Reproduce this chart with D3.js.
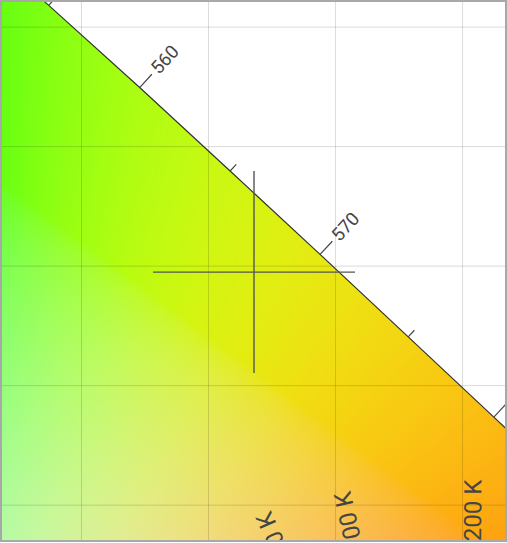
<!DOCTYPE html>
<html><head><meta charset="utf-8">
<script src="https://cdn.jsdelivr.net/npm/d3@7"></script>
<style>html,body{margin:0;padding:0;background:#fff;} svg{display:block;}</style>
</head><body>
<svg id="chart" width="507" height="543"></svg>
<script>
// Spectral locus (CIE 1931 2°), wavelength in nm
const wavelengths = [380,390,400,410,420,430,440,450,460,470,475,480,485,490,495,500,505,510,515,520,525,530,535,540,545,550,555,560,565,570,575,580,585,590,595,600,605,610,620,630,640,650,660,680,700];
const locusX = [0.1741,0.1738,0.1733,0.1726,0.1714,0.1689,0.1644,0.1566,0.1440,0.1241,0.1096,0.0913,0.0687,0.0454,0.0235,0.0082,0.0039,0.0139,0.0389,0.0743,0.1142,0.1547,0.1929,0.2296,0.2658,0.3016,0.3373,0.3731,0.4087,0.4441,0.4788,0.5125,0.5448,0.5752,0.6029,0.6270,0.6482,0.6658,0.6915,0.7079,0.7190,0.7260,0.7300,0.7334,0.7347];
const locusY = [0.0050,0.0049,0.0048,0.0048,0.0051,0.0069,0.0109,0.0177,0.0297,0.0578,0.0868,0.1327,0.2007,0.2950,0.4127,0.5384,0.6548,0.7502,0.8120,0.8338,0.8262,0.8059,0.7816,0.7543,0.7243,0.6923,0.6589,0.6245,0.5896,0.5547,0.5202,0.4866,0.4544,0.4242,0.3965,0.3725,0.3514,0.3340,0.3083,0.2920,0.2809,0.2740,0.2700,0.2666,0.2653];
const tickWavelengths = [550,555,560,565,570,575,580,585,590];
const labelWavelengths = [550,560,570,580,590];

// Planckian locus
const planckTemps = [1500,2000,2200,2500,2700,3000,3500,4000,5000,6500];
const planckX = [0.5857,0.5267,0.5018,0.4770,0.4599,0.4369,0.4053,0.3805,0.3451,0.3135];
const planckY = [0.3931,0.4133,0.4153,0.4137,0.4106,0.4041,0.3848,0.3768,0.3516,0.3237];
const cctLabelTemps = [2200,2700,3000];

// Grid and marker
const gridX = [0.35,0.40,0.45,0.50];
const gridY = [0.45,0.50,0.55,0.60,0.65];
const pointX = [0.4181];
const pointY = [0.5473];

const xDomain = [0.3189, 0.5169];
const yDomain = [0.4352, 0.6603];

const W = 507, H = 543;
const L = 2, T = 2, R = 505, B = 540;
const xs = d3.scaleLinear().domain(xDomain).range([L, R]);
const ys = d3.scaleLinear().domain(yDomain).range([B, T]);

const svg = d3.select('#chart');
const defs = svg.append('defs');
defs.append('clipPath').attr('id','plotClip').append('rect')
  .attr('x',L).attr('y',T).attr('width',R-L).attr('height',B-T);
const locusPts = wavelengths.map((w,i)=>[xs(locusX[i]), ys(locusY[i])]);
const line = d3.line();
defs.append('clipPath').attr('id','locusClip').append('path')
  .attr('d', line(locusPts) + 'Z');

// colour fill
function xyToRGB(x,y){
  const X = x/y, Y = 1, Z = (1-x-y)/y;
  let r = 3.2406*X - 1.5372*Y - 0.4986*Z;
  let g = -0.9689*X + 1.8758*Y + 0.0415*Z;
  let b = 0.0557*X - 0.2040*Y + 1.0570*Z;
  const m = Math.min(r,g,b);
  if (m < 0) { r -= m; g -= m; b -= m; }
  const N = Math.cbrt(r*r*r + g*g*g + b*b*b);
  const gam = v => { v = Math.min(1, v/N); return v <= 0.0031308 ? 12.92*v : 1.055*Math.pow(v,1/2.4)-0.055; };
  return [gam(r)*255, gam(g)*255, gam(b)*255];
}
const cw = R-L, ch = B-T;
const canvas = document.createElement('canvas');
canvas.width = cw; canvas.height = ch;
const ctx = canvas.getContext('2d');
const img = ctx.createImageData(cw, ch);
for (let j=0;j<ch;j++){
  const y = ys.invert(T+j+0.5);
  for (let i=0;i<cw;i++){
    const x = xs.invert(L+i+0.5);
    const c = xyToRGB(x,y);
    const k = (j*cw+i)*4;
    img.data[k]=c[0]; img.data[k+1]=c[1]; img.data[k+2]=c[2]; img.data[k+3]=255;
  }
}
ctx.putImageData(img,0,0);

const plot = svg.append('g').attr('clip-path','url(#plotClip)');
plot.append('g').attr('clip-path','url(#locusClip)')
  .append('image').attr('x',L).attr('y',T).attr('width',cw).attr('height',ch)
  .attr('preserveAspectRatio','none').attr('opacity',0.93)
  .attr('href', canvas.toDataURL());

// grid via axes
const gx = plot.append('g').attr('transform',`translate(0,${B})`)
  .call(d3.axisBottom(xs).tickValues(gridX).tickSize(-(B-T)).tickFormat(''));
const gy = plot.append('g').attr('transform',`translate(${L},0)`)
  .call(d3.axisLeft(ys).tickValues(gridY).tickSize(-(R-L)).tickFormat(''));
[gx,gy].forEach(g=>{
  g.select('.domain').remove();
  g.selectAll('.tick line').attr('stroke','rgba(0,0,0,0.14)').attr('stroke-width',1);
});

// spectral locus line
plot.append('path').attr('d', line(locusPts)).attr('fill','none')
  .attr('stroke','#333').attr('stroke-width',1.2);

// ticks and labels on spectral locus
function normalAt(arrX, arrY, idx, flip){
  const a = Math.max(0, idx-1), b = Math.min(arrX.length-1, idx+1);
  const tx = xs(arrX[b]) - xs(arrX[a]), ty = ys(arrY[b]) - ys(arrY[a]);
  const len = Math.hypot(tx,ty);
  return flip ? [-ty/len, tx/len] : [ty/len, -tx/len];
}
function interpLocus(w){
  const i = d3.bisectLeft(wavelengths, w);
  if (wavelengths[i] === w) return [locusX[i], locusY[i], i];
  const t = (w - wavelengths[i-1])/(wavelengths[i]-wavelengths[i-1]);
  return [locusX[i-1]+t*(locusX[i]-locusX[i-1]), locusY[i-1]+t*(locusY[i]-locusY[i-1]), i];
}
tickWavelengths.forEach(w=>{
  const [x,y,i] = interpLocus(w);
  const n = normalAt(locusX, locusY, i, false);
  const major = labelWavelengths.includes(w);
  const len = major ? 18 : 9;
  const px = xs(x), py = ys(y);
  plot.append('line').attr('x1',px).attr('y1',py)
    .attr('x2',px+n[0]*len).attr('y2',py+n[1]*len)
    .attr('stroke','#444').attr('stroke-width',1.2);
  if (major){
    const ax = px+n[0]*(len+4), ay = py+n[1]*(len+4);
    const ang = Math.atan2(n[1],n[0])*180/Math.PI;
    plot.append('text').attr('transform',`translate(${ax},${ay}) rotate(${ang})`)
      .attr('dominant-baseline','central').attr('text-anchor','start')
      .attr('font-family','Roboto, sans-serif').attr('font-size',18.5)
      .attr('fill','#454545').text(w);
  }
});

// Planckian locus and CCT labels
const planckPts = planckTemps.map((t,i)=>[xs(planckX[i]), ys(planckY[i])]);
plot.append('path').attr('d', d3.line().curve(d3.curveCatmullRom)(planckPts))
  .attr('fill','none').attr('stroke','#333').attr('stroke-width',1.2);
cctLabelTemps.forEach(t=>{
  const i = planckTemps.indexOf(t);
  const n = normalAt(planckX, planckY, i, true);
  const px = xs(planckX[i]), py = ys(planckY[i]);
  const d = 33;
  const ang = Math.atan2(n[1],n[0])*180/Math.PI;
  plot.append('text').attr('transform',`translate(${px+n[0]*d},${py+n[1]*d}) rotate(${ang})`)
    .attr('dominant-baseline','central').attr('dy','0.25em').attr('text-anchor','start')
    .attr('font-family','Roboto, sans-serif').attr('font-size',24)
    .attr('fill','#454545').text(t + ' K');
});

// cross marker
const cs = 101;
plot.selectAll('g.mark').data(pointX.map((x,i)=>[x,pointY[i]])).enter()
  .append('path').attr('fill','none').attr('stroke','#555').attr('stroke-width',1.4)
  .attr('d', d=>{ const cx=xs(d[0]), cy=ys(d[1]);
    return `M${cx-cs},${cy}H${cx+cs}M${cx},${cy-cs}V${cy+cs}`; });

// frame
svg.append('rect').attr('x',1).attr('y',1).attr('width',505).attr('height',540)
  .attr('fill','none').attr('stroke','#a8a8a8').attr('stroke-width',2);
</script>
</body></html>
